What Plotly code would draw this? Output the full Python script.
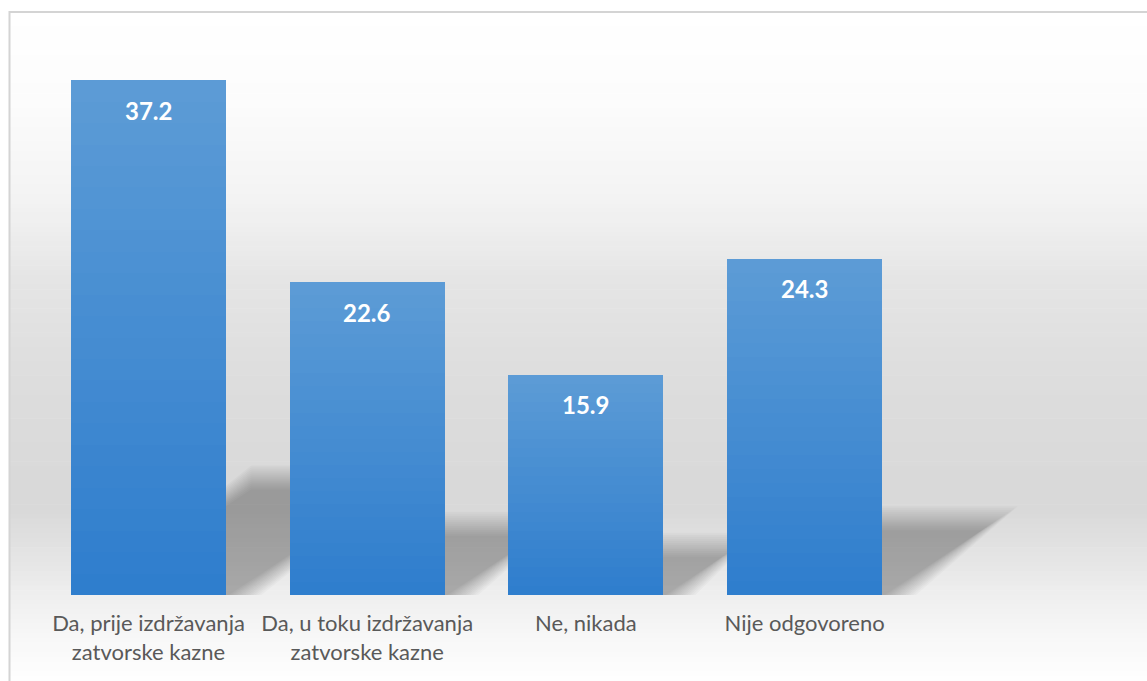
import numpy as np
import plotly.graph_objects as go

# Survey answers and their shares (%)
categories = [
    "Da, prije izdržavanja<br>zatvorske kazne",
    "Da, u toku izdržavanja<br>zatvorske kazne",
    "Ne, nikada",
    "Nije odgovoreno",
]
values = [37.2, 22.6, 15.9, 24.3]
value_labels = ["37.2", "22.6", "15.9", "24.3"]

W, H = 1147, 681
BASE_PX = 595            # pixel row of the value axis baseline
PX_PER_UNIT = 13.84      # vertical pixels per percentage point
CAT_PX = 218.7           # horizontal pixels per category
FIRST_CAT_PX = 148.5
BAR_WIDTH = 0.709

x_pos = list(range(len(categories)))
x_range = [(0 - FIRST_CAT_PX) / CAT_PX, (W - FIRST_CAT_PX) / CAT_PX]
y_range = [0, BASE_PX / PX_PER_UNIT]

fig = go.Figure()

# Bars with a vertical gradient: stacked slices of each bar, dark at the bottom
N_SLICES = 24
c_bot = np.array([0x2E, 0x7D, 0xCD])
c_top = np.array([0x5D, 0x9C, 0xD6])
for j in range(N_SLICES):
    t = (j + 0.5) / N_SLICES
    c = c_bot + (c_top - c_bot) * t
    fig.add_trace(go.Bar(
        x=x_pos,
        y=[v / N_SLICES for v in values],
        width=BAR_WIDTH,
        marker=dict(color="rgb(%d,%d,%d)" % tuple(c.round()), line=dict(width=0)),
        hoverinfo="skip",
        showlegend=False,
    ))

shapes = []

# Chart background: vertical grey gradient (pixel row -> grey level)
stops_px = [12, 100, 200, 280, 380, 480, 510, 560, 600, 640, 681]
stops_lv = [255, 252, 243, 229, 221, 217, 217, 229, 240, 248, 254]
n_strips = 140
edges = np.linspace(12, H, n_strips + 1)
for a, b in zip(edges[:-1], edges[1:]):
    lv = int(round(np.interp((a + b) / 2, stops_px, stops_lv)))
    shapes.append(dict(
        type="rect", xref="paper", yref="paper", layer="below",
        x0=9 / W, x1=1.05,
        y0=(BASE_PX - b - 0.6) / BASE_PX, y1=(BASE_PX - a) / BASE_PX,
        fillcolor="rgb(%d,%d,%d)" % (lv, lv, lv), line=dict(width=0),
    ))

# Soft perspective shadows cast to the right of each bar
K_H = 0.228   # shadow height relative to bar height
K_S = 0.35    # horizontal skew relative to bar height (in pixels)
n_blur = 13
for i, v in zip(x_pos, values):
    h = v * K_H
    s = v * K_S * PX_PER_UNIT / CAT_PX
    x0, x1 = i - BAR_WIDTH / 2, i + BAR_WIDTH / 2
    for j in range(n_blur):
        e = 12 - 24 * j / (n_blur - 1)         # pixel offset of this blur ring
        ex = e / CAT_PX
        ey = e / PX_PER_UNIT
        path = "M %f,%f L %f,%f L %f,%f L %f,%f Z" % (
            x0, -1.0,
            x1 + ex * 1.5, -1.0,
            x1 + s + ex * 1.5, h + ey,
            x0 + s, h + ey,
        )
        shapes.append(dict(
            type="path", xref="x", yref="y", layer="below", path=path,
            fillcolor="rgba(0,0,0,0.022)", line=dict(width=0),
        ))

# Outer chart frame
shapes.append(dict(
    type="rect", xref="paper", yref="paper", layer="above",
    x0=9.5 / W, x1=1.02, y0=-0.2, y1=(BASE_PX - 12) / BASE_PX,
    fillcolor="rgba(0,0,0,0)", line=dict(color="#d4d4d4", width=2),
))

annotations = [
    dict(x=i, y=v, xref="x", yref="y", text=f"<b>{lbl}</b>", showarrow=False,
         yanchor="middle", yshift=-30,
         font=dict(family="Lato", size=24, color="white"))
    for i, v, lbl in zip(x_pos, values, value_labels)
]

fig.update_layout(
    width=W, height=H,
    margin=dict(l=0, r=0, t=0, b=H - BASE_PX),
    paper_bgcolor="white",
    plot_bgcolor="rgba(0,0,0,0)",
    barmode="stack",
    bargap=0,
    shapes=shapes,
    annotations=annotations,
    showlegend=False,
    xaxis=dict(
        range=x_range, tickmode="array", tickvals=x_pos, ticktext=categories,
        showgrid=False, zeroline=False, showline=False, ticks="",
        ticklabelstandoff=13,
        tickfont=dict(family="Lato", size=22, color="#595959"),
        fixedrange=True,
    ),
    yaxis=dict(range=y_range, visible=False, fixedrange=True),
)

fig.write_html("out.html")
